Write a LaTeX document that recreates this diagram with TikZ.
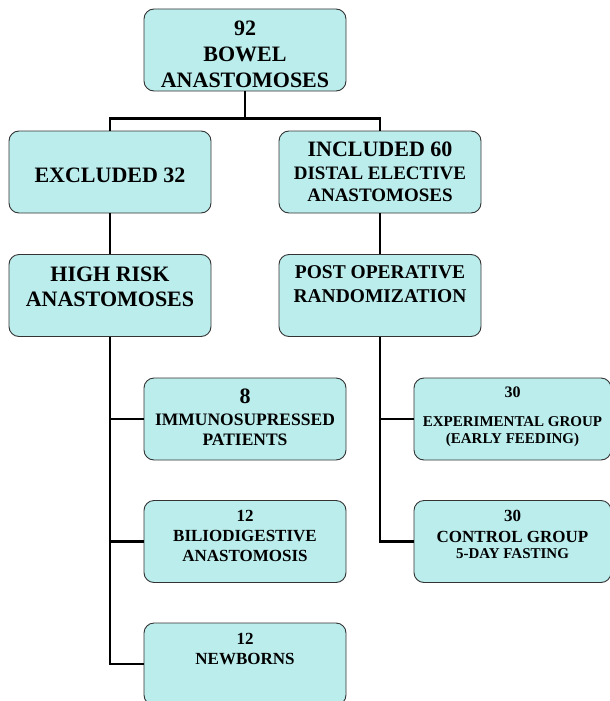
\documentclass[tikz,border=0pt]{standalone}
\usepackage{fontspec}
\setmainfont{Liberation Serif}
\usepackage{tikz}
\usetikzlibrary{calc}
\usepackage{xcolor}
\definecolor{boxfill}{HTML}{BBEDED}
\definecolor{boxline}{HTML}{333333}
\newcommand{\fs}[1]{\fontsize{#1}{#1}\selectfont}

\begin{document}
\begin{tikzpicture}[
    x=1pt, y=-1pt,
    box/.style={draw=boxline, line width=0.9pt, fill=boxfill, rounded corners=10pt,
      minimum width=202pt, minimum height=82pt, inner sep=0pt, align=center, font=\bfseries},
    conn/.style={draw, line width=2.8pt}
]
\useasboundingbox (0,0) rectangle (610,701);

\node[box, font=\bfseries\fontsize{22}{26}\selectfont] (total) at (245,50)
  {\rule{0pt}{23pt}92\\BOWEL\\ANASTOMOSES};
\node[box, font=\bfseries\fontsize{22}{26}\selectfont, text height=21pt, text depth=0pt] (excl) at (110,172)
  {EXCLUDED 32};
\node[box, font=\bfseries\fontsize{19}{22.5}\selectfont] (incl) at (380,172)
  {\fs{22}INCLUDED 60\\DISTAL ELECTIVE\\ANASTOMOSES};
\node[box, font=\bfseries\fontsize{22}{25}\selectfont, text depth=17pt] (hirisk) at (110,295.5)
  {HIGH RISK\\ANASTOMOSES};
\node[box, font=\bfseries\fontsize{19.5}{24}\selectfont, text depth=23pt] (postop) at (380,295.5)
  {POST OPERATIVE\\RANDOMIZATION};

% excluded branch
\node[box, font=\bfseries\fontsize{17.5}{20}\selectfont, text depth=4pt] (immuno) at (245,419)
  {\fs{22}8\\[2pt]IMMUNOSUPRESSED\\PATIENTS};
\node[box, font=\bfseries\fontsize{17}{20}\selectfont, text depth=11pt] (bilio) at (245,541.5)
  {12\\BILIODIGESTIVE\\ANASTOMOSIS};
\node[box, font=\bfseries\fontsize{17}{20}\selectfont, text depth=30pt] (newb) at (245,664)
  {12\\NEWBORNS};

% included branch
\node[box, minimum width=197pt, font=\bfseries\fontsize{15}{16.5}\selectfont, text depth=8pt] (expgrp) at (512.5,419)
  {\fs{16}30\\[12.5pt]EXPERIMENTAL GROUP\\(EARLY FEEDING)};
\node[box, minimum width=197pt, font=\bfseries\fontsize{17}{16}\selectfont, text depth=14pt] (ctrl) at (512.5,541.5)
  {30\\[5pt]CONTROL GROUP\\\fs{15}5-DAY FASTING};

\draw[conn] (total.south) -- ++(0,27) coordinate (split) -| (excl.north);
\draw[conn] (split) -| (incl.north);
\draw[conn] (excl.south) -- (hirisk.north);
\draw[conn] (incl.south) -- (postop.north);
\draw[conn] (hirisk.south) |- (immuno.west);
\draw[conn] (hirisk.south) |- (bilio.west);
\draw[conn] (hirisk.south) |- (newb.west);
\draw[conn] (postop.south) |- (expgrp.west);
\draw[conn] (postop.south) |- (ctrl.west);
\end{tikzpicture}
\end{document}
